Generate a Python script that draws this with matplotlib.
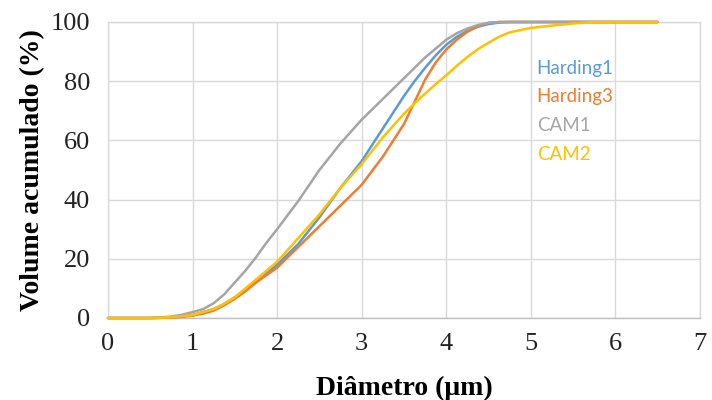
import matplotlib
matplotlib.use("Agg")
import matplotlib.pyplot as plt

diam = [0, 0.25, 0.5, 0.625, 0.75, 0.875, 1.0, 1.125, 1.25, 1.375, 1.5, 1.625, 1.75, 1.875,
        2.0, 2.25, 2.5, 2.75, 3.0, 3.25, 3.5, 3.625, 3.75, 3.875, 4.0, 4.125, 4.25, 4.375,
        4.5, 4.625, 4.75, 5.0, 5.25, 5.5, 5.75, 6.0, 6.5]

harding1 = [0, 0, 0, 0.1, 0.3, 0.6, 1, 2, 3, 4.8, 7, 9.5, 12, 15,
            18, 25, 34, 44, 53, 64, 75, 80, 84.5, 88.7, 92.3, 95, 97, 98.4,
            99.3, 99.8, 100, 100, 100, 100, 100, 100, 100]
harding3 = [0, 0, 0, 0.05, 0.2, 0.4, 0.8, 1.5, 2.5, 4.3, 6.5, 9, 12, 14.5,
            17, 24, 31, 38, 45, 54.5, 65.5, 73, 80.5, 86.3, 90.7, 94, 96.7, 98.6,
            99.7, 100, 100, 100, 100, 100, 100, 100, 100]
cam1 = [0, 0, 0, 0.2, 0.5, 1.1, 2, 3, 5, 8, 12, 16, 20.5, 25.5,
        30, 39.5, 50, 59, 67, 74, 81, 84.5, 88, 91, 94, 96.2, 97.8, 99,
        99.7, 100, 100, 100, 100, 100, 100, 100, 100]
cam2 = [0, 0, 0, 0.1, 0.3, 0.6, 1, 2, 3, 4.8, 7, 10, 13, 16,
        19, 27, 35, 44, 52, 61, 69, 72.5, 75.8, 79, 82, 85.2, 88.2, 90.8,
        93, 95, 96.5, 98, 98.8, 99.5, 100, 100, 100]

series_names = ["Harding1", "Harding3", "CAM1", "CAM2"]
series_vals = [harding1, harding3, cam1, cam2]
colors = ["#5B9BD5", "#ED7D31", "#A5A5A5", "#FFC000"]

xticks = [0, 1, 2, 3, 4, 5, 6, 7]
yticks = [0, 20, 40, 60, 80, 100]

fig = plt.figure(figsize=(7.12, 4.0), dpi=100)
ax = fig.add_axes([0.1517, 0.205, 0.8313, 0.74])

for name, vals, c in zip(series_names, series_vals, colors):
    ax.plot(diam, vals, color=c, lw=1.8, solid_capstyle="round",
            solid_joinstyle="round", clip_on=False, zorder=3)

ax.set_xlim(0, 7)
ax.set_ylim(0, 100)
ax.set_xticks(xticks)
ax.set_yticks(yticks)
ax.grid(True, color="#D9D9D9", lw=1.0)
ax.set_axisbelow(True)
for s in ax.spines.values():
    s.set_color("#D9D9D9")
    s.set_linewidth(1.0)
ax.spines["bottom"].set_color("#BFBFBF")
ax.tick_params(axis="x", length=0, labelsize=19, pad=11)
ax.tick_params(axis="y", length=0, labelsize=19, pad=13)
for lab in ax.get_xticklabels() + ax.get_yticklabels():
    lab.set_fontfamily("Liberation Serif")
    lab.set_color("#222222")

ax.set_xlabel("Diâmetro (μm)", fontfamily="Liberation Serif", fontweight="bold",
              fontsize=20, labelpad=15)
ax.set_ylabel("Volume acumulado (%)", fontfamily="Liberation Serif", fontweight="bold",
              fontsize=20, labelpad=4)

leg_y = [84.3, 74.8, 65.0, 55.2]
for name, c, yv in zip(series_names, colors, leg_y):
    ax.text(5.07, yv, name, color=c, fontsize=13.5, fontfamily="Lato",
            ha="left", va="center")

fig.savefig("out.png", dpi=100)
